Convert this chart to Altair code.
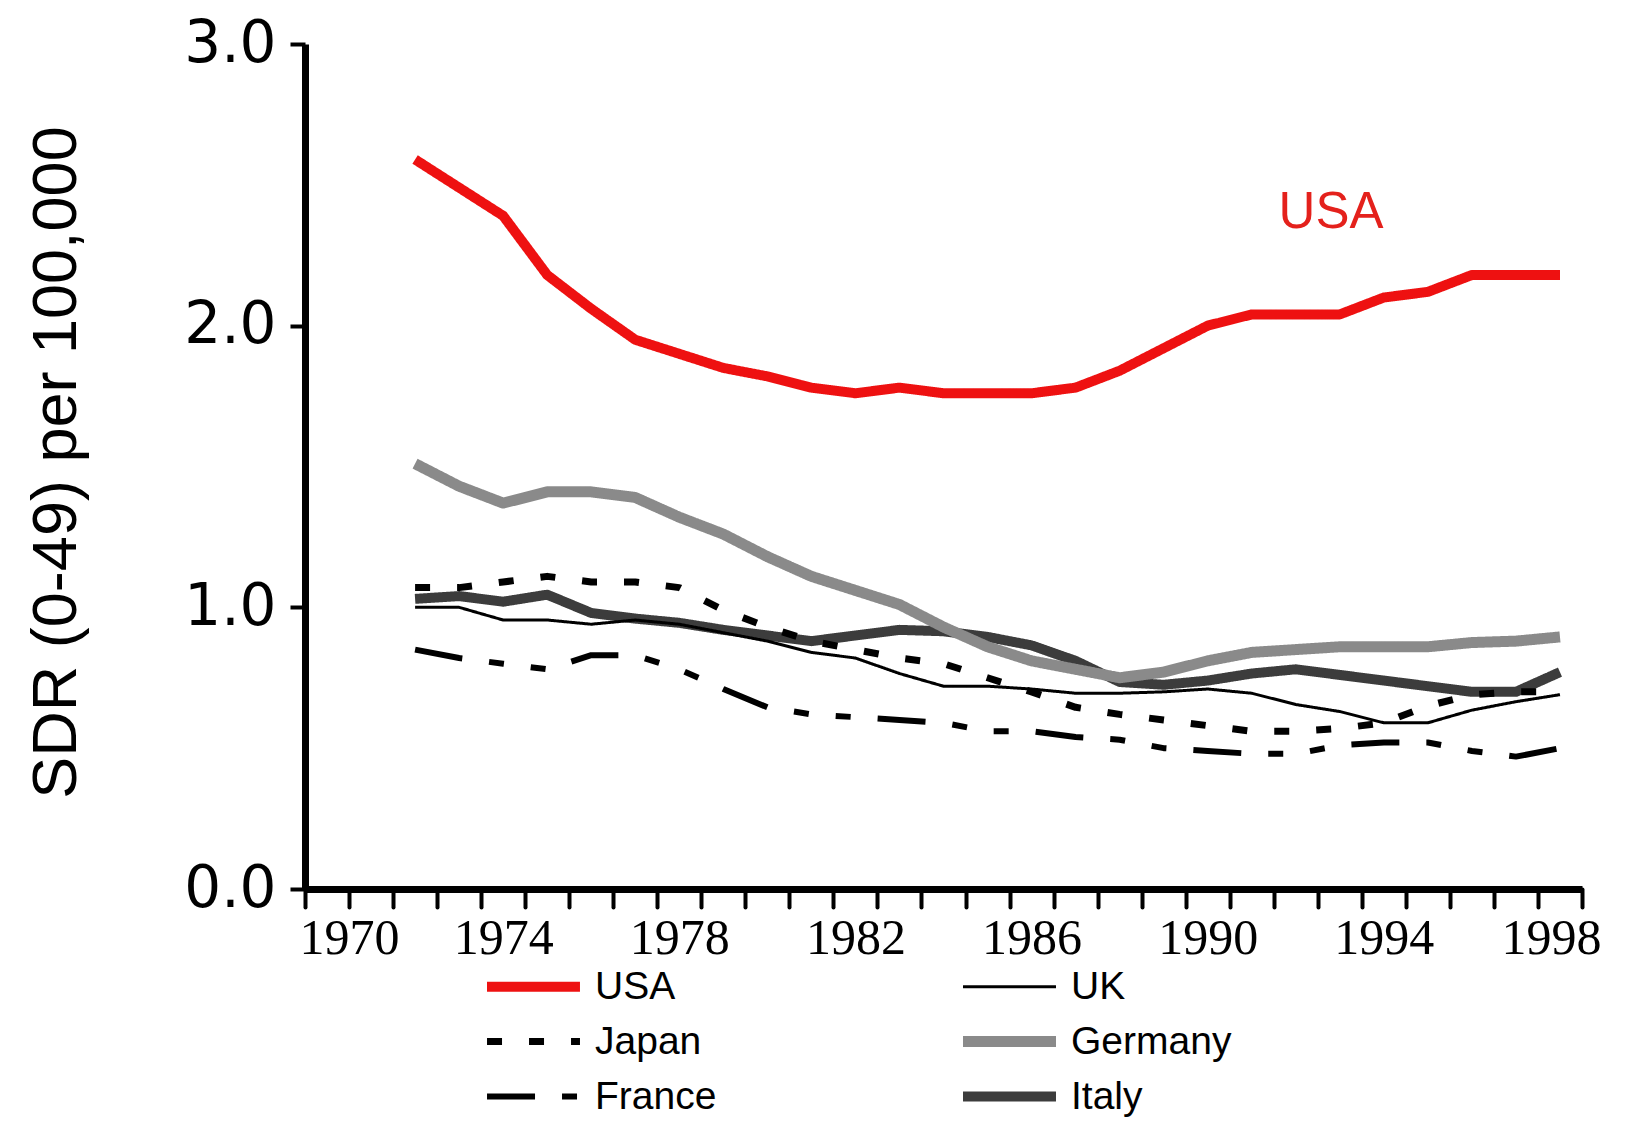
import altair as alt
import pandas as pd

years = list(range(1972, 1999))
usa = [2.59, 2.49, 2.39, 2.18, 2.06, 1.95, 1.90, 1.85, 1.82, 1.78,
       1.76, 1.78, 1.76, 1.76, 1.76, 1.78, 1.84, 1.92, 2.00, 2.04,
       2.04, 2.04, 2.10, 2.12, 2.18, 2.18, 2.18]
germany = [1.51, 1.43, 1.37, 1.41, 1.41, 1.39, 1.32, 1.26, 1.18, 1.11,
           1.06, 1.01, 0.93, 0.86, 0.81, 0.78, 0.75, 0.77, 0.81, 0.84,
           0.85, 0.86, 0.86, 0.86, 0.875, 0.88, 0.895]
italy = [1.03, 1.04, 1.02, 1.045, 0.98, 0.96, 0.945, 0.92, 0.90, 0.88,
         0.90, 0.92, 0.915, 0.895, 0.865, 0.81, 0.735, 0.725, 0.74, 0.765,
         0.78, 0.76, 0.74, 0.72, 0.70, 0.70, 0.77]
uk = [1.00, 1.00, 0.955, 0.955, 0.94, 0.955, 0.94, 0.91, 0.88, 0.84,
      0.82, 0.765, 0.72, 0.72, 0.71, 0.695, 0.695, 0.70, 0.71, 0.695,
      0.655, 0.63, 0.59, 0.59, 0.635, 0.665, 0.69]
japan = [1.07, 1.07, 1.09, 1.11, 1.09, 1.09, 1.07, 0.99, 0.93, 0.88,
         0.85, 0.82, 0.80, 0.75, 0.70, 0.645, 0.62, 0.60, 0.58, 0.56,
         0.56, 0.57, 0.59, 0.65, 0.69, 0.70, 0.70]
france = [0.85, 0.82, 0.80, 0.78, 0.83, 0.83, 0.78, 0.71, 0.645, 0.62,
          0.61, 0.60, 0.59, 0.56, 0.56, 0.54, 0.53, 0.50, 0.49, 0.48,
          0.48, 0.51, 0.52, 0.52, 0.49, 0.47, 0.50]

series = {"USA": usa, "UK": uk, "Japan": japan,
          "Germany": germany, "France": france, "Italy": italy}

legend_order = ["USA", "Japan", "France", "UK", "Germany", "Italy"]
line_colors = ["#ee1111", "#000000", "#000000", "#000000", "#8a8a8a", "#3c3c3c"]
line_dashes = [[1, 0], [15, 27], [48, 27, 15, 27, 15, 27], [1, 0], [1, 0], [1, 0]]
line_widths = [10, 7, 6, 3, 11, 10]
draw_order = ["Italy", "Germany", "UK", "France", "Japan", "USA"]

label_year = [1992.8]
label_value = [2.40]
label_text = ["USA"]

x_tick_values = [1969.5 + i for i in range(30)]

rows = []
for c, vals in series.items():
    for y, v in zip(years, vals):
        rows.append({"country": c, "year": y, "value": v})
df = pd.DataFrame(rows)

xscale = alt.Scale(domain=[1969.5, 1998.5], nice=False, zero=False)
yscale = alt.Scale(domain=[0, 3], nice=False)

base = alt.Chart(df).mark_line(strokeJoin="round").encode(
    x=alt.X("year:Q", scale=xscale, axis=alt.Axis(
        values=x_tick_values,
        labelExpr="(datum.value + 0.5 - 1970) % 4 == 0 ? format(datum.value + 0.5, 'd') : ''",
        labelOffset={"condition": [{"test": "datum.value < 1970", "value": 44},
                                   {"test": "datum.value > 1997", "value": 13}],
                     "value": 22},
        labelFlush=False, labelOverlap=False,
        labelFont="Liberation Serif", labelFontSize=50, labelColor="black",
        labelPadding=6, labelBaseline="top",
        tickSize=18, tickWidth=4, tickColor="black", tickCap="round",
        domainWidth=7, domainColor="black", grid=False, title=None)),
    y=alt.Y("value:Q", scale=yscale, axis=alt.Axis(
        values=[0, 1, 2, 3], format=".1f",
        labelFont="DejaVu Sans", labelFontSize=58, labelColor="black",
        labelPadding=14, tickSize=15, tickWidth=4, tickColor="black",
        domainWidth=7, domainColor="black", grid=False,
        title="SDR (0-49) per 100,000", titleFont="Liberation Sans",
        titleFontSize=63, titleFontWeight="normal", titleColor="black",
        titleAngle=270, titleX=-230, titleY=418, titleAlign="center",
        titleBaseline="alphabetic")),
    color=alt.Color("country:N", scale=alt.Scale(domain=legend_order, range=line_colors),
                    legend=alt.Legend(title=None, orient="none", legendX=209, legendY=923,
                                      columns=2, symbolType="M-4,0H4", symbolSize=540,
                                      labelFont="Liberation Sans", labelFontSize=39,
                                      labelColor="black", labelOffset=42, labelLimit=400,
                                      rowPadding=12, columnPadding=224)),
    strokeDash=alt.StrokeDash("country:N", scale=alt.Scale(domain=legend_order, range=line_dashes),
                              legend=alt.Legend(title=None)),
    strokeWidth=alt.StrokeWidth("country:N", scale=alt.Scale(type="ordinal", domain=legend_order, range=line_widths),
                                legend=alt.Legend(title=None)),
)

layers = [base.transform_filter(alt.datum.country == c) for c in draw_order]

ann = pd.DataFrame({"year": label_year, "value": label_value, "text": label_text})
text = alt.Chart(ann).mark_text(font="Liberation Sans", fontSize=51, color="#e4211c",
                                align="center", baseline="middle").encode(
    x=alt.X("year:Q", scale=xscale), y=alt.Y("value:Q", scale=yscale), text="text:N")

chart = alt.layer(*layers, text).properties(
    width=1277, height=845,
    background="white",
    autosize=alt.AutoSizeParams(type="none"),
    padding={"left": 297, "top": 36, "right": 25, "bottom": 228},
).configure_view(stroke=None)

chart.save("out.html", embed_options={"renderer": "svg", "actions": False})
